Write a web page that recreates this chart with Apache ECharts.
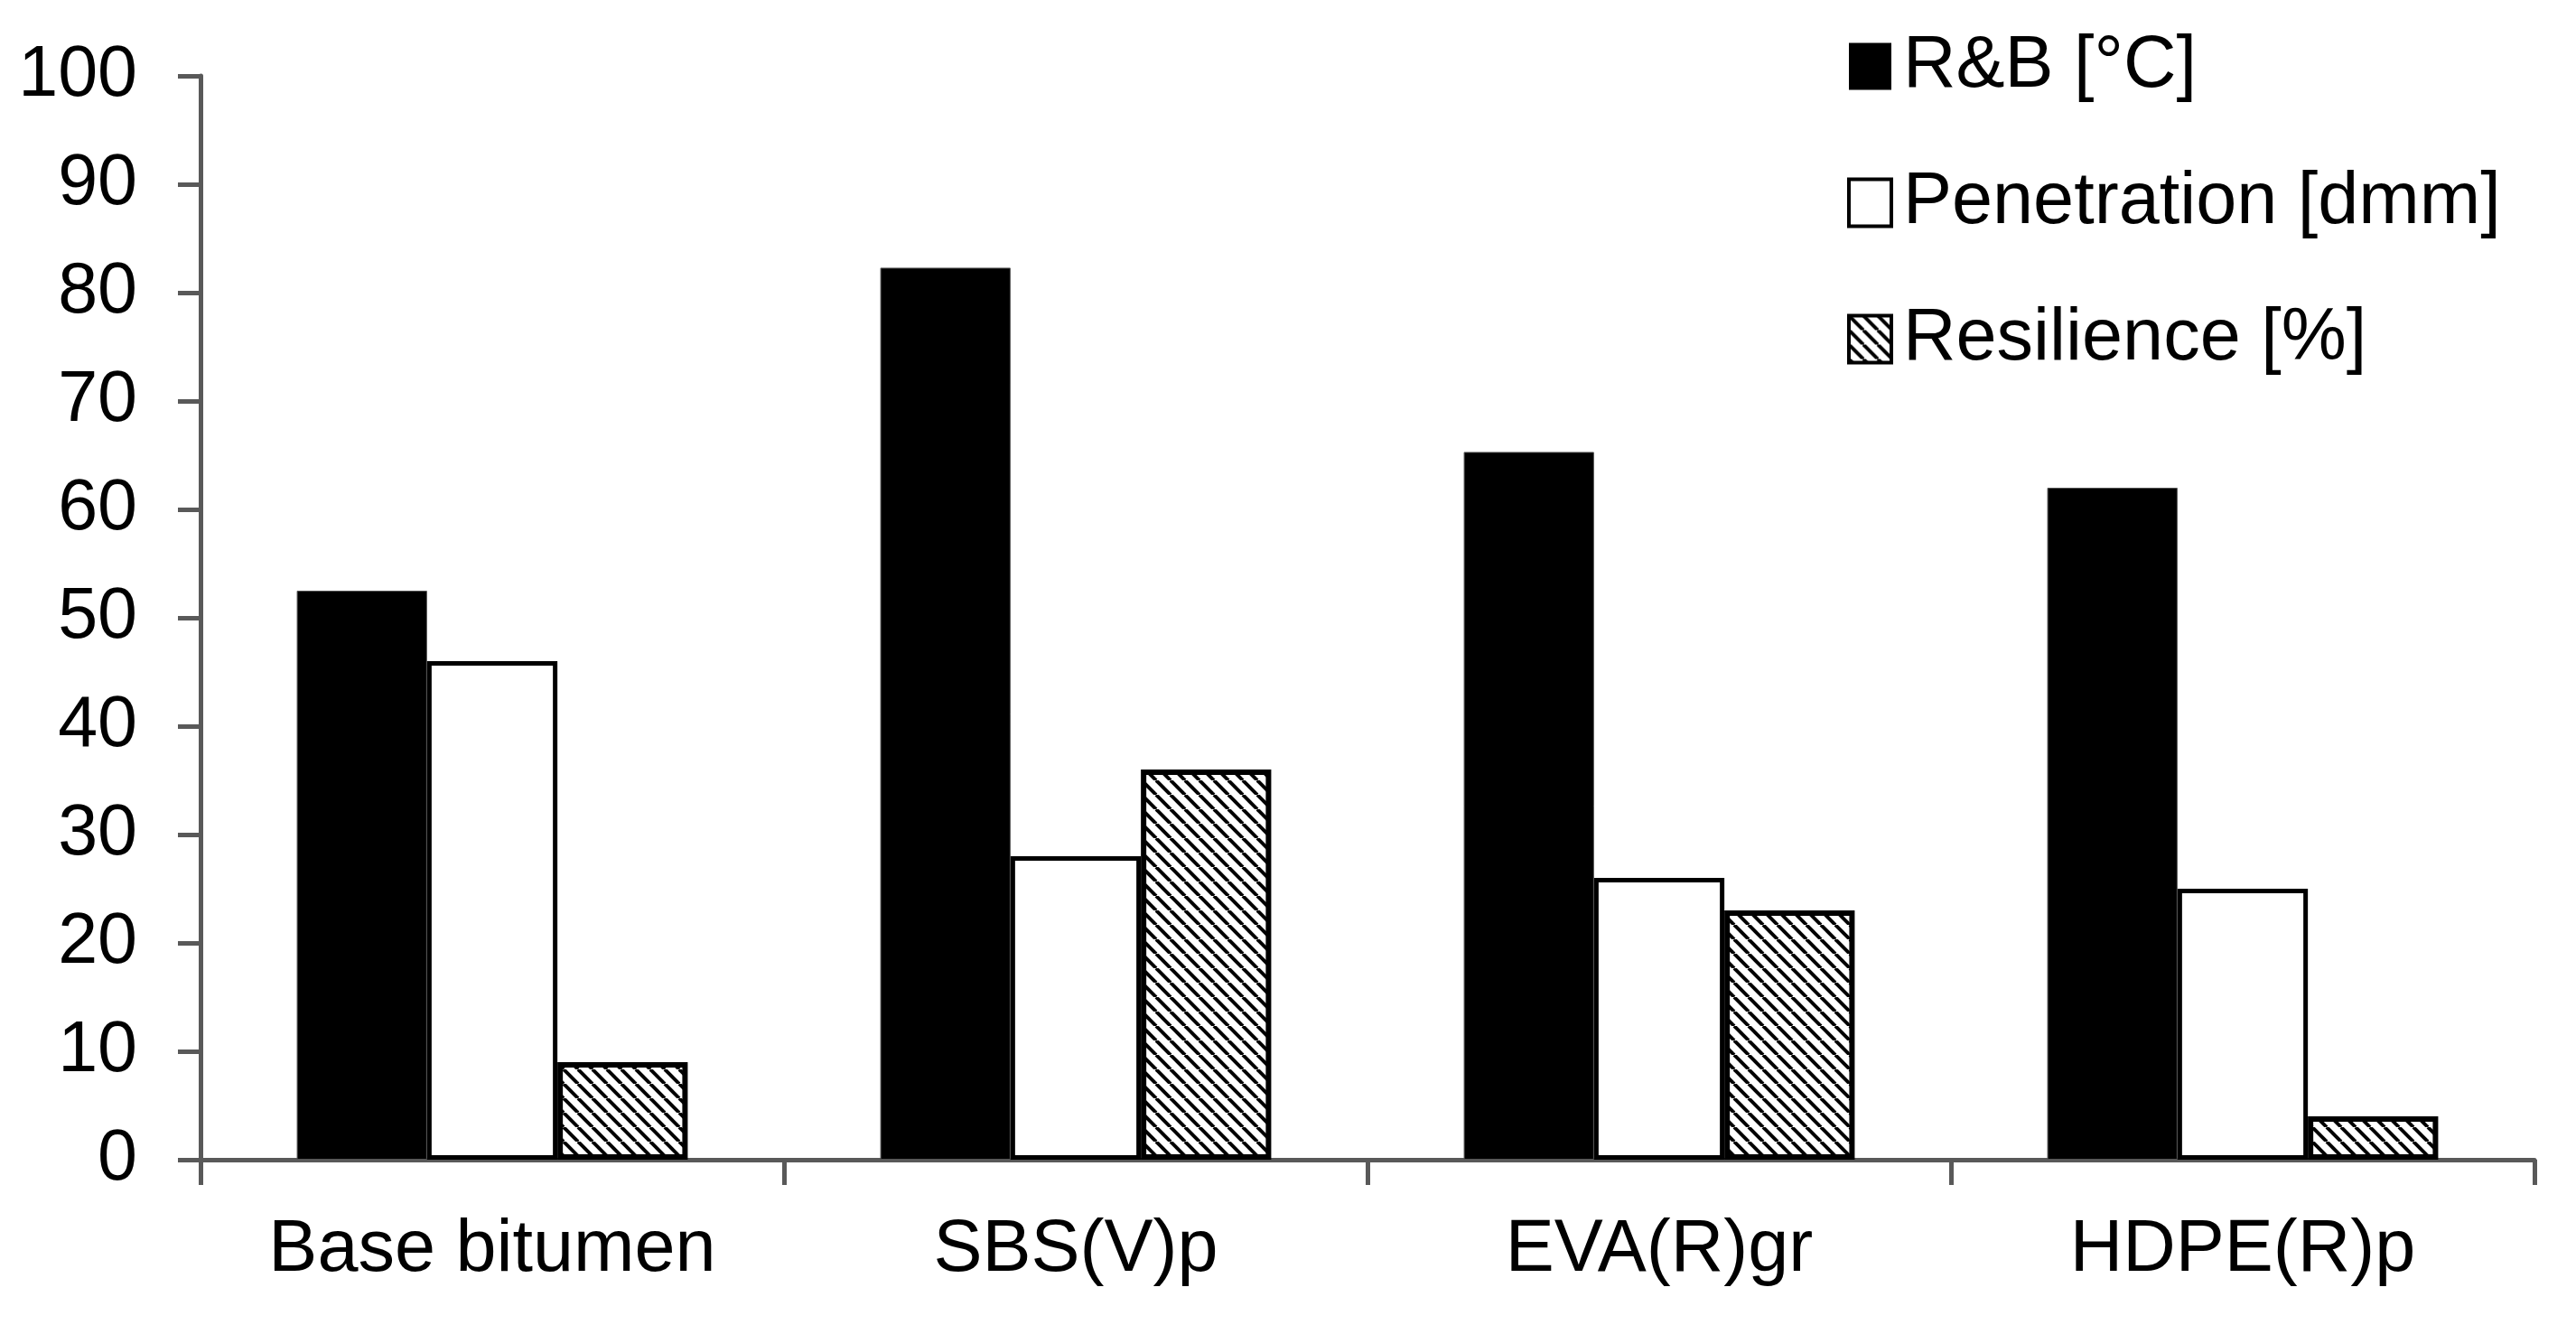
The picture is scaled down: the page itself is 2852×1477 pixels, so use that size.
<!DOCTYPE html>
<html>
<head>
<meta charset="utf-8">
<script src="https://cdn.jsdelivr.net/npm/echarts@6/dist/echarts.min.js"></script>
<style>
html,body{margin:0;padding:0;background:#fff;}
#chart{width:2852px;height:1477px;}
</style>
</head>
<body>
<div id="chart"></div>
<script>
const categories = ['Base bitumen', 'SBS(V)p', 'EVA(R)gr', 'HDPE(R)p'];
const seriesNames = ['R&B [°C]', 'Penetration [dmm]', 'Resilience [%]'];
const rbValues = [52.5, 82.3, 65.3, 62.0];
const penetrationValues = [46, 28, 26, 25];
const resilienceValues = [9, 36, 23, 4];
const yMin = 0, yMax = 100, yInterval = 10;

function hatchPattern() {
  const s = 16;
  const c = document.createElement('canvas');
  c.width = s; c.height = s;
  const ctx = c.getContext('2d');
  ctx.fillStyle = '#fff';
  ctx.fillRect(0, 0, s, s);
  ctx.strokeStyle = '#000';
  ctx.lineWidth = 4;
  for (const off of [-s, 0, s]) {
    ctx.beginPath();
    ctx.moveTo(off, 0);
    ctx.lineTo(off + s, s);
    ctx.stroke();
  }
  return c;
}
const hatch = { image: hatchPattern(), repeat: 'repeat' };

const FONT = "'Liberation Sans', Arial, sans-serif";
const chart = echarts.init(document.getElementById('chart'), null, { renderer: 'canvas' });
const styles = [
  { color: '#000', borderColor: '#555', borderWidth: 1 },
  { color: '#fff', borderColor: '#000', borderWidth: 5 },
  { color: hatch, borderColor: '#000', borderWidth: 6 }
];
const dataSets = [rbValues, penetrationValues, resilienceValues];

chart.setOption({
  animation: false,
  backgroundColor: '#fff',
  grid: { left: 222, right: 46, top: 84, bottom: 193, containLabel: false },
  legend: {
    orient: 'vertical',
    left: 2045,
    top: 33,
    itemWidth: 47,
    itemHeight: 52,
    itemGap: 70,
    padding: 0,
    icon: 'rect',
    formatter: n => '{t|' + n + '}',
    textStyle: {
      fontSize: 81, color: '#000', fontFamily: FONT,
      rich: { t: { fontSize: 81, color: '#000', fontFamily: FONT, padding: [0, 0, 0, 8] } }
    },
    data: seriesNames.map((n, i) => ({
      name: n,
      itemStyle: { borderColor: '#000', borderWidth: i === 0 ? 0 : 4 }
    }))
  },
  xAxis: {
    type: 'category',
    data: categories,
    axisLine: { lineStyle: { color: '#595959', width: 5 } },
    axisTick: { show: true, length: 28, lineStyle: { color: '#595959', width: 5 } },
    axisLabel: { fontSize: 81, color: '#000', fontFamily: FONT, margin: 60 }
  },
  yAxis: {
    type: 'value',
    min: yMin, max: yMax, interval: yInterval,
    splitLine: { show: false },
    axisLine: { show: true, lineStyle: { color: '#595959', width: 5 } },
    axisTick: { show: true, length: 25, lineStyle: { color: '#595959', width: 5 } },
    axisLabel: { fontSize: 79, color: '#000', fontFamily: FONT, margin: 70 }
  },
  series: seriesNames.map((n, i) => ({
    name: n,
    type: 'bar',
    data: dataSets[i],
    barGap: '0%',
    barCategoryGap: '33%',
    itemStyle: styles[i]
  }))
});
</script>
</body>
</html>
